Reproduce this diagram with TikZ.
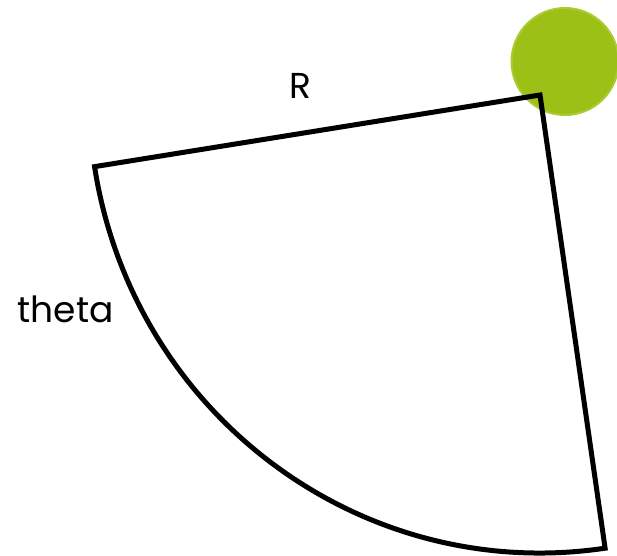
\documentclass[tikz,border=0pt]{standalone}
\usepackage{fontspec}
\setmainfont{Poppins}
\definecolor{ballgreen}{RGB}{157,192,22}
\definecolor{ballrim}{RGB}{170,204,50}
\begin{document}
\begin{tikzpicture}[x=1pt,y=1pt,
  sector/.style={line width=5pt, line join=miter, draw=black},
  ball/.style={circle, fill=ballgreen, draw=ballrim, line width=2pt, minimum size=107pt, inner sep=0pt},
  lbl/.style={font=\fontsize{36}{36}\selectfont, anchor=base, inner sep=0pt}]
\useasboundingbox (0,0) rectangle (617,-555);
\node[ball] (ball) at (565,-61.5) {};
\coordinate (c) at (540,-95);
\path (c) ++(189:451 and 458) coordinate (a);
\draw[sector] (c) -- (a) arc[start angle=189, end angle=278.3, x radius=451, y radius=458] coordinate (b) -- cycle;
\node[lbl] (R) at (300,-98) {R};
\node[lbl] (theta) at (65.5,-322) {theta};
\end{tikzpicture}
\end{document}
